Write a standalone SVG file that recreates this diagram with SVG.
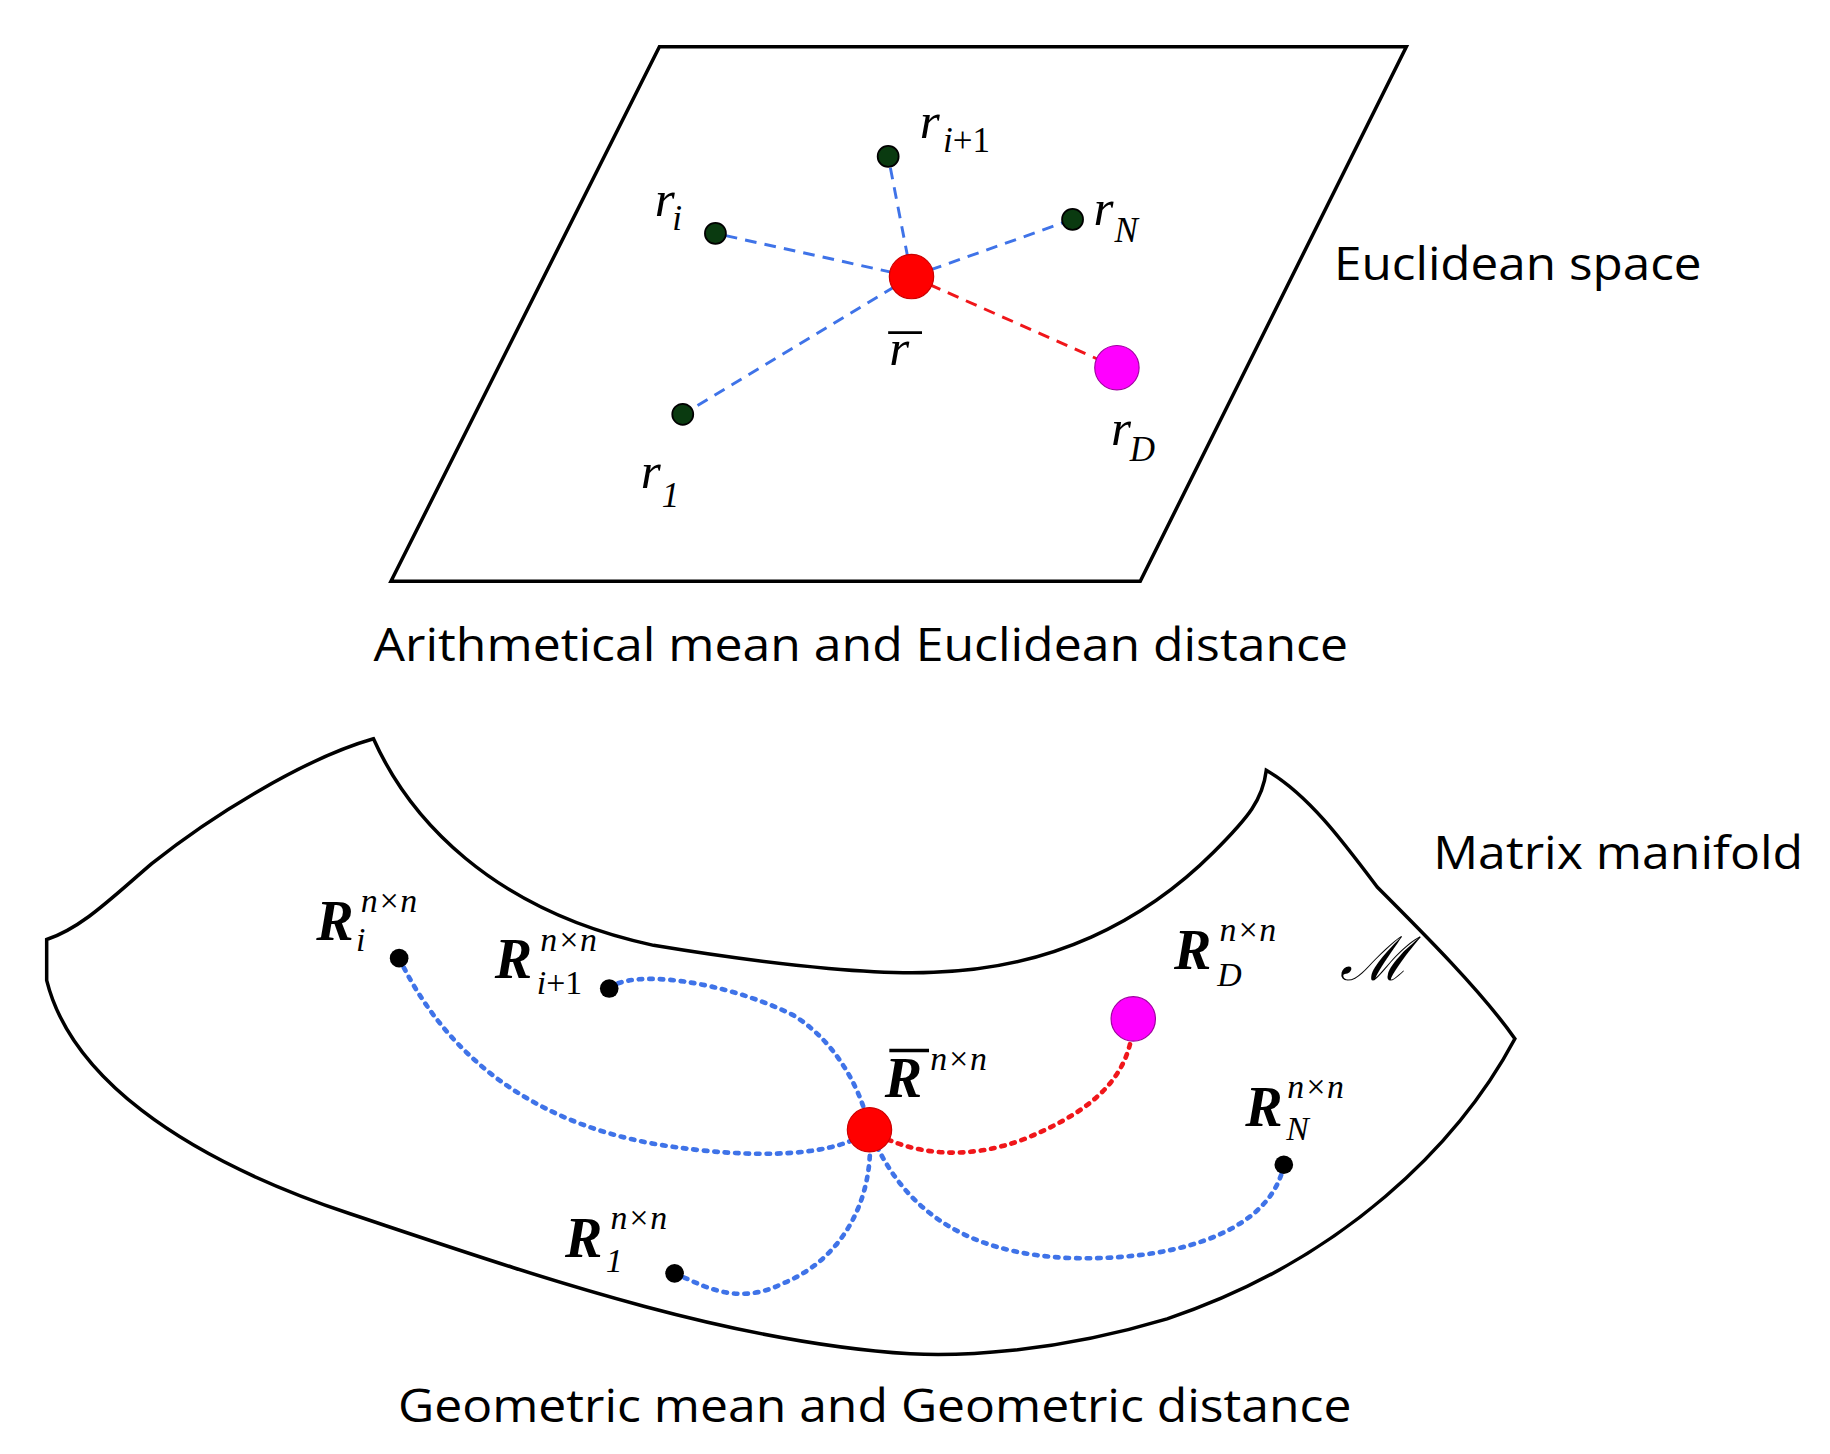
<svg xmlns="http://www.w3.org/2000/svg" width="1830" height="1454" viewBox="0 0 1830 1454">
<style>
.lbl{font-family:"Open Sans","Liberation Sans",sans-serif;font-size:39px;fill:#000}
.m{font-family:"Liberation Serif","Times New Roman",serif;font-style:italic;fill:#000}
.mb{font-family:"Liberation Serif","Times New Roman",serif;font-style:italic;font-weight:bold;font-size:48px;fill:#000}
.bl{stroke:#3f73e8;stroke-width:2.5;stroke-dasharray:10,7;fill:none}
.rd{stroke:#f0161a;stroke-width:2.5;stroke-dasharray:10,7;fill:none}
.bd{stroke:#3f73e8;stroke-width:4;stroke-dasharray:3,6;stroke-linecap:round;fill:none}
.rdd{stroke:#f0161a;stroke-width:4;stroke-dasharray:3,6;stroke-linecap:round;fill:none}
.dk{fill:#0a3a10;stroke:#000;stroke-width:1.5}
.blk{fill:#000}
.red{fill:#ff0000;stroke:#c00;stroke-width:1}
.mag{fill:#ff00ff;stroke:#a000a0;stroke-width:1}
.sh{fill:none;stroke:#000;stroke-width:3}
</style>
<rect width="1830" height="1454" fill="#fff"/>
<g transform="scale(1.1671)">
<g id="euclid-plane"><polygon class="sh" points="565,40 1205,40 977,498 335,498"/></g>
<g id="connectors-top">
<line class="bl" x1="781" y1="237" x2="761" y2="134"/>
<line class="bl" x1="781" y1="237" x2="613" y2="200"/>
<line class="bl" x1="781" y1="237" x2="919" y2="188"/>
<line class="bl" x1="781" y1="237" x2="585" y2="355"/>
<line class="rd" x1="781" y1="237" x2="957" y2="315"/>
</g>
<g id="r-ip1"><circle class="dk" cx="761" cy="134" r="9"/><text class="m" x="788" y="118" font-size="44">r</text><text class="m" x="808" y="130" font-size="30">i<tspan font-style="normal">+1</tspan></text></g>
<g id="r-i"><circle class="dk" cx="613" cy="200" r="9"/><text class="m" x="561" y="185" font-size="44">r</text><text class="m" x="576" y="197" font-size="30">i</text></g>
<g id="r-N"><circle class="dk" cx="919" cy="188" r="9"/><text class="m" x="937" y="193" font-size="44">r</text><text class="m" x="955" y="207" font-size="30">N</text></g>
<g id="r-1"><circle class="dk" cx="585" cy="355" r="9"/><text class="m" x="549" y="418" font-size="44">r</text><text class="m" x="567" y="434" font-size="30" font-style="normal">1</text></g>
<g id="r-bar"><circle class="red" cx="781" cy="237" r="19"/><text class="m" x="762" y="313" font-size="44">r</text><line x1="761" y1="285" x2="790" y2="285" stroke="#000" stroke-width="2.5"/></g>
<g id="r-D"><circle class="mag" cx="957" cy="315" r="19"/><text class="m" x="952" y="381" font-size="44">r</text><text class="m" x="968" y="395" font-size="30">D</text></g>
<text class="lbl" x="1143" y="240" textLength="315" lengthAdjust="spacingAndGlyphs">Euclidean space</text>
<text class="lbl" x="320" y="566" textLength="835" lengthAdjust="spacingAndGlyphs">Arithmetical mean and Euclidean distance</text>

<g id="manifold"><path class="sh" d="M40,805 C70,795 95,770 130,740 C180,700 260,650 320,633 C350,700 420,780 560,810 C680,830 760,835 800,833 C900,830 980,790 1040,730 C1070,700 1082,685 1085,660 C1120,680 1150,720 1180,760 C1220,800 1270,850 1298,890 C1250,980 1150,1080 1000,1130 C900,1160 820,1162 780,1160 C620,1150 450,1090 300,1040 C150,990 60,920 40,840 Z"/></g>
<g id="connectors-bottom">
<path class="bd" d="M342,821 C380,900 450,960 560,980 C650,995 720,990 745,968"/>
<path class="bd" d="M522,847 C540,830 620,840 680,870 C720,895 740,940 745,968"/>
<path class="bd" d="M578,1091 C600,1100 630,1120 670,1100 C720,1080 750,1030 745,968"/>
<path class="bd" d="M1100,998 C1090,1050 1020,1080 920,1078 C820,1075 770,1030 745,968"/>
<path class="rdd" d="M745,968 C780,990 830,995 880,975 C940,950 970,920 971,873"/>
</g>
<g id="R-i"><circle class="blk" cx="342" cy="821" r="8"/><text class="mb" x="271" y="805">R</text><text class="m" x="309" y="781" font-size="29">n×n</text><text class="m" x="305" y="815" font-size="29">i</text></g>
<g id="R-ip1"><circle class="blk" cx="522" cy="847" r="8"/><text class="mb" x="424" y="838">R</text><text class="m" x="463" y="815" font-size="29">n×n</text><text class="m" x="460" y="852" font-size="29">i<tspan font-style="normal">+1</tspan></text></g>
<g id="R-bar"><circle class="red" cx="745" cy="968" r="19"/><text class="mb" x="758" y="940">R</text><line x1="762" y1="900" x2="796" y2="900" stroke="#000" stroke-width="3"/><text class="m" x="797" y="917" font-size="29">n×n</text></g>
<g id="R-D"><circle class="mag" cx="971" cy="873" r="19"/><text class="mb" x="1006" y="830">R</text><text class="m" x="1045" y="806" font-size="29">n×n</text><text class="m" x="1043" y="845" font-size="29">D</text></g>
<g id="R-N"><circle class="blk" cx="1100" cy="998" r="8"/><text class="mb" x="1067" y="965">R</text><text class="m" x="1103" y="941" font-size="29">n×n</text><text class="m" x="1102" y="977" font-size="29">N</text></g>
<g id="R-1"><circle class="blk" cx="578" cy="1091" r="8"/><text class="mb" x="484" y="1077">R</text><text class="m" x="523" y="1053" font-size="29">n×n</text><text class="m" x="519" y="1090" font-size="29" font-style="normal">1</text></g>
<text class="m" x="1148" y="840" font-size="52">ℳ</text>
<text class="lbl" x="1228" y="745" textLength="317" lengthAdjust="spacingAndGlyphs">Matrix manifold</text>
<text class="lbl" x="341" y="1218" textLength="817" lengthAdjust="spacingAndGlyphs">Geometric mean and Geometric distance</text>
</g>
</svg>
